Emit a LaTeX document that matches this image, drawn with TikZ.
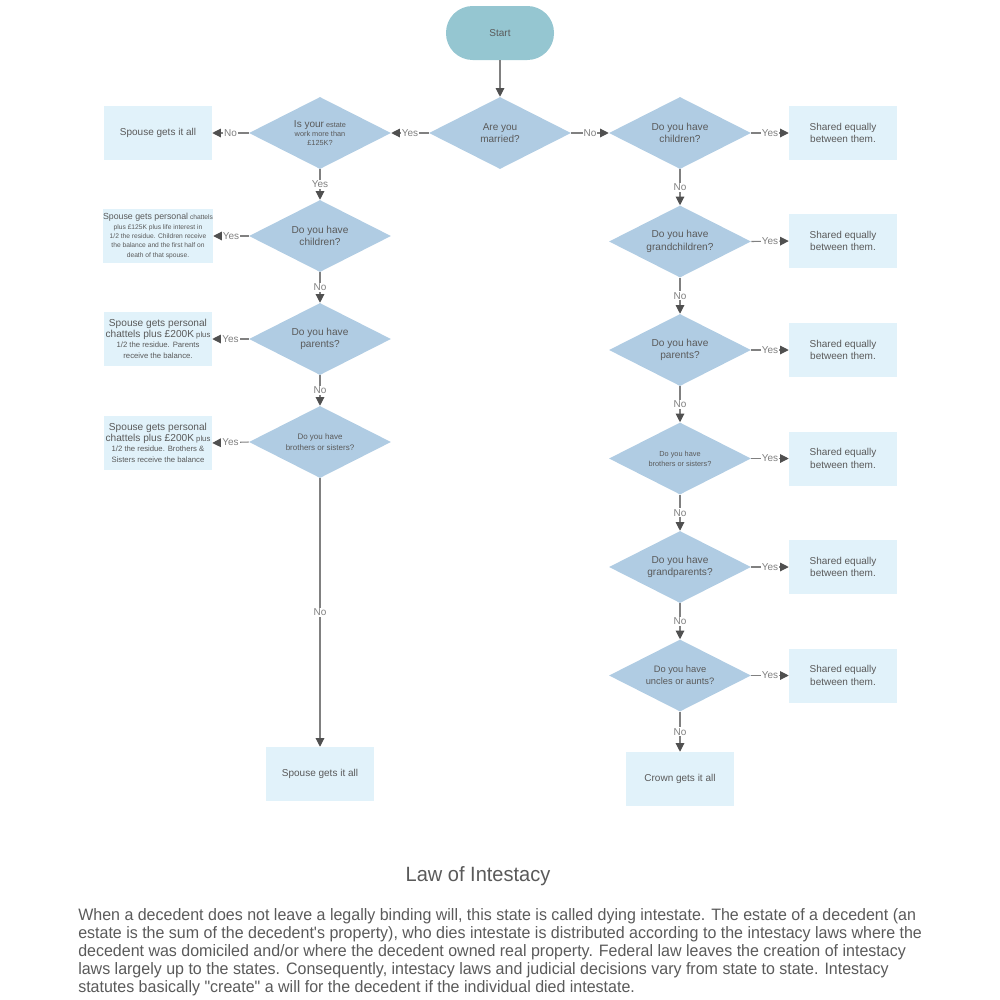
\documentclass[tikz,border=0pt]{standalone}
\usepackage{fontspec}
\setmainfont{Liberation Sans}
\newfontfamily\narrowfont[FakeStretch=0.968]{Liberation Sans}
\usetikzlibrary{arrows.meta,shapes.geometric}
\definecolor{diac}{HTML}{B0CCE3}
\definecolor{startc}{HTML}{95C6D1}
\definecolor{boxc}{HTML}{E1F2FA}
\definecolor{txt}{HTML}{5A5A5A}
\definecolor{lin}{HTML}{808080}
\definecolor{arr}{HTML}{505050}
\newcommand{\fs}[1]{\fontsize{#1}{#1}\selectfont}
\tikzset{
  dia/.style={shape=diamond, aspect=1.97, fill=diac, inner sep=0pt,
    minimum width=106.5pt, minimum height=54pt, align=center, text=txt, font=\fontsize{7.6}{9.3}\selectfont},
  outbox/.style={shape=rectangle, fill=boxc, inner sep=0pt,
    minimum width=81pt, minimum height=40.5pt, align=center, text=txt, font=\fontsize{7.5}{9.3}\selectfont},
  startbox/.style={shape=rectangle, rounded corners=20pt, fill=startc, inner sep=0pt,
    minimum width=81pt, minimum height=40.5pt, text=txt, font=\fontsize{7.5}{9}\selectfont},
  conn/.style={draw=lin, line width=0.8pt, -{Triangle[length=6.5pt,width=6.5pt,color=arr]}},
  elab/.style={fill=white, inner sep=0.8pt, text=lin, font=\fontsize{7.5}{9}\selectfont}
}
\begin{document}
\begin{tikzpicture}[x=0.75pt,y=-0.75pt]
\useasboundingbox (0,0) rectangle (1000,1000);
% nodes
\node[startbox] (start) at (500,33) {Start};
\node[dia, font=\fontsize{7.5}{9.5}\selectfont] (m) at (500,133) {Are you\\married?};
\node[dia, font=\fontsize{5.5}{7}\selectfont] (e) at (320,133) {{\fs{7.5}Is your} estate\\work more than\\£125K?};
\node[outbox] (s1) at (158,133) {Spouse gets it all};
\node[dia] (lc) at (320,236) {Do you have\\children?};
\node[outbox, font=\fontsize{5.0}{7.0}\selectfont] (lb1) at (158,236) {{\fs{6.6}Spouse gets personal} chattels\\plus £125K plus life interest in\\1/2 the residue. Children receive\\the balance and the first half on\\death of that spouse.};
\node[dia] (lp) at (320,339) {Do you have\\parents?};
\node[outbox, font=\fontsize{5.8}{8}\selectfont] (lb2) at (158,339) {{\fs{7.6}Spouse gets personal}\\{\fs{7.6}chattels plus £200K} plus\\1/2 the residue. Parents\\receive the balance.};
\node[dia, font=\fontsize{6}{8}\selectfont] (ls) at (320,442) {Do you have\\brothers or sisters?};
\node[outbox, font=\fontsize{5.8}{8}\selectfont] (lb3) at (158,443) {{\fs{7.6}Spouse gets personal}\\{\fs{7.6}chattels plus £200K} plus\\1/2 the residue. Brothers \&\\Sisters receive the balance};
\node[outbox] (s2) at (320,774) {Spouse gets it all};
% right column
\node[dia] (r1) at (680,133) {Do you have\\children?};
\node[dia] (r2) at (680,241.5) {Do you have\\grandchildren?};
\node[dia] (r3) at (680,350) {Do you have\\parents?};
\node[dia, font=\fontsize{5.5}{7.5}\selectfont] (r4) at (680,458.5) {Do you have\\brothers or sisters?};
\node[dia] (r5) at (680,567) {Do you have\\grandparents?};
\node[dia, font=\fontsize{7}{9}\selectfont] (r6) at (680,675.5) {Do you have\\uncles or aunts?};
\foreach \i/\y in {1/133,2/241,3/350,4/458.5,5/567,6/675.5}{
  \node[outbox] (b\i) at (843,\y) {Shared equally\\between them.};
}
\node[outbox] (crown) at (680,779) {Crown gets it all};
% title and text
\node[text=txt, font=\narrowfont\fontsize{15.5}{17}\selectfont] (title) at (478,876) {Law of Intestacy};
\node[anchor=north west, inner sep=0pt, align=left, text=txt, font=\narrowfont\fontsize{12.4}{13.5}\selectfont] (para) at (78,908) {When a decedent does not leave a legally binding will, this state is called dying intestate. The estate of a decedent (an\\estate is the sum of the decedent's property), who dies intestate is distributed according to the intestacy laws where the\\decedent was domiciled and/or where the decedent owned real property. Federal law leaves the creation of intestacy\\laws largely up to the states. Consequently, intestacy laws and judicial decisions vary from state to state. Intestacy\\statutes basically "create" a will for the decedent if the individual died intestate.};
% connectors
\draw[conn] (start) -- (m);
\draw[conn] (m.west) -- node[elab]{Yes} (e.east);
\draw[conn] (m.east) -- node[elab]{No} (r1.west);
\draw[conn] (e.west) -- node[elab]{No} (s1.east);
\draw[conn] (e.south) -- node[elab]{Yes} (lc.north);
\draw[conn] (lc.west) -- node[elab]{Yes} (lb1.east);
\draw[conn] (lc.south) -- node[elab]{No} (lp.north);
\draw[conn] (lp.west) -- node[elab]{Yes} (lb2.east);
\draw[conn] (lp.south) -- node[elab]{No} (ls.north);
\draw[conn] (ls.west) -- node[elab]{Yes} (lb3.east);
\draw[conn] (ls.south) -- node[elab]{No} (s2.north);
\draw[conn] (r1.south) -- node[elab]{No} (r2.north);
\draw[conn] (r2.south) -- node[elab]{No} (r3.north);
\draw[conn] (r3.south) -- node[elab]{No} (r4.north);
\draw[conn] (r4.south) -- node[elab]{No} (r5.north);
\draw[conn] (r5.south) -- node[elab]{No} (r6.north);
\draw[conn] (r6.south) -- node[elab]{No} (crown.north);
\foreach \i in {1,...,6}{
  \draw[conn] (r\i.east) -- node[elab]{Yes} (b\i.west);
}
\end{tikzpicture}
\end{document}
